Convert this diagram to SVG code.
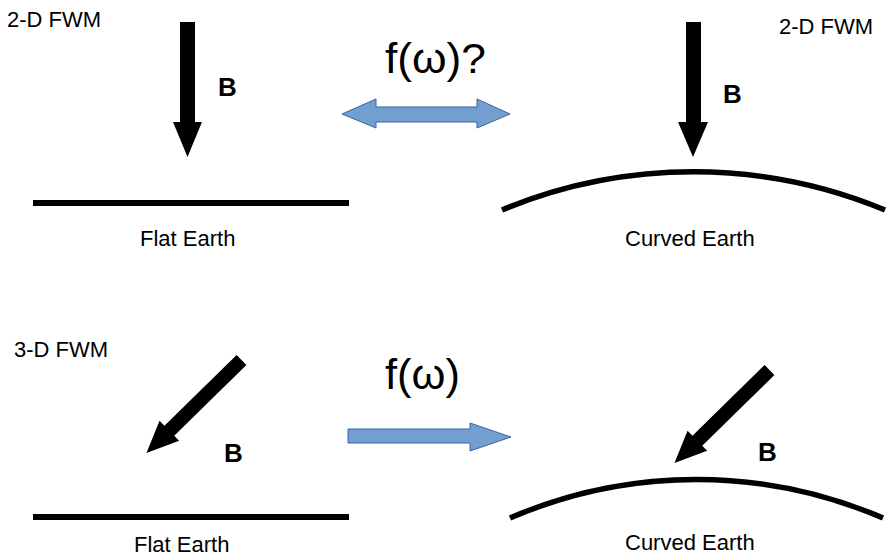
<svg xmlns="http://www.w3.org/2000/svg" width="886" height="557" viewBox="0 0 886 557">
<style>
.lbl{font-family:"Liberation Sans",Arial,sans-serif;font-size:22px;fill:#000}
.b{font-family:"Liberation Sans",Arial,sans-serif;font-size:26px;font-weight:bold;fill:#000}
.f{font-family:"Liberation Sans",Arial,sans-serif;font-size:42px;fill:#000}
.field{fill:#000}
.earth{fill:none;stroke:#000;stroke-width:5.5}
.blue{fill:#729fcf;stroke:#3465a4;stroke-width:1}
</style>
<defs>
<polygon id="diag" points="0,-7 101,-7 101,-14 133,0 101,14 101,7 0,7"/>
</defs>

<g id="top-left">
<text class="lbl" x="7" y="27">2-D FWM</text>
<polygon class="field" points="180,22 195,22 195,122 202,122 187.5,157 173,122 180,122"/>
<text class="b" x="218" y="96">B</text>
<rect x="33" y="200" width="316" height="6" fill="#000"/>
<text class="lbl" x="140" y="246">Flat Earth</text>
</g>

<g id="top-right">
<text class="lbl" x="779" y="34">2-D FWM</text>
<polygon class="field" points="686,22 701,22 701,122 708,122 693,157 678,122 686,122"/>
<text class="b" x="723" y="103">B</text>
<path class="earth" d="M 502 210 A 500 500 0 0 1 885 210"/>
<text class="lbl" x="625" y="246">Curved Earth</text>
</g>

<g id="bottom-left">
<text class="lbl" x="14" y="357">3-D FWM</text>
<use href="#diag" class="field" transform="translate(241.5,360) rotate(135.6)"/>
<text class="b" x="224" y="462">B</text>
<rect x="33" y="514" width="316" height="6" fill="#000"/>
<text class="lbl" x="134" y="552">Flat Earth</text>
</g>

<g id="bottom-right">
<use href="#diag" class="field" transform="translate(769.5,370) rotate(135.6)"/>
<text class="b" x="758" y="461">B</text>
<path class="earth" d="M 510 518 A 471 471 0 0 1 883 518"/>
<text class="lbl" x="625" y="550">Curved Earth</text>
</g>

<g id="connectors">
<polygon class="blue" points="342,114 376,99 376,107 477,107 477,99 510,114 477,128 477,122 376,122 376,128"/>
<text class="f" x="385" y="73" textLength="101" lengthAdjust="spacingAndGlyphs">f(ω)?</text>
<polygon class="blue" points="348,429 470,429 470,423 511,437 470,451 470,443 348,443"/>
<text class="f" x="385" y="389" textLength="75" lengthAdjust="spacingAndGlyphs">f(ω)</text>
</g>
</svg>
